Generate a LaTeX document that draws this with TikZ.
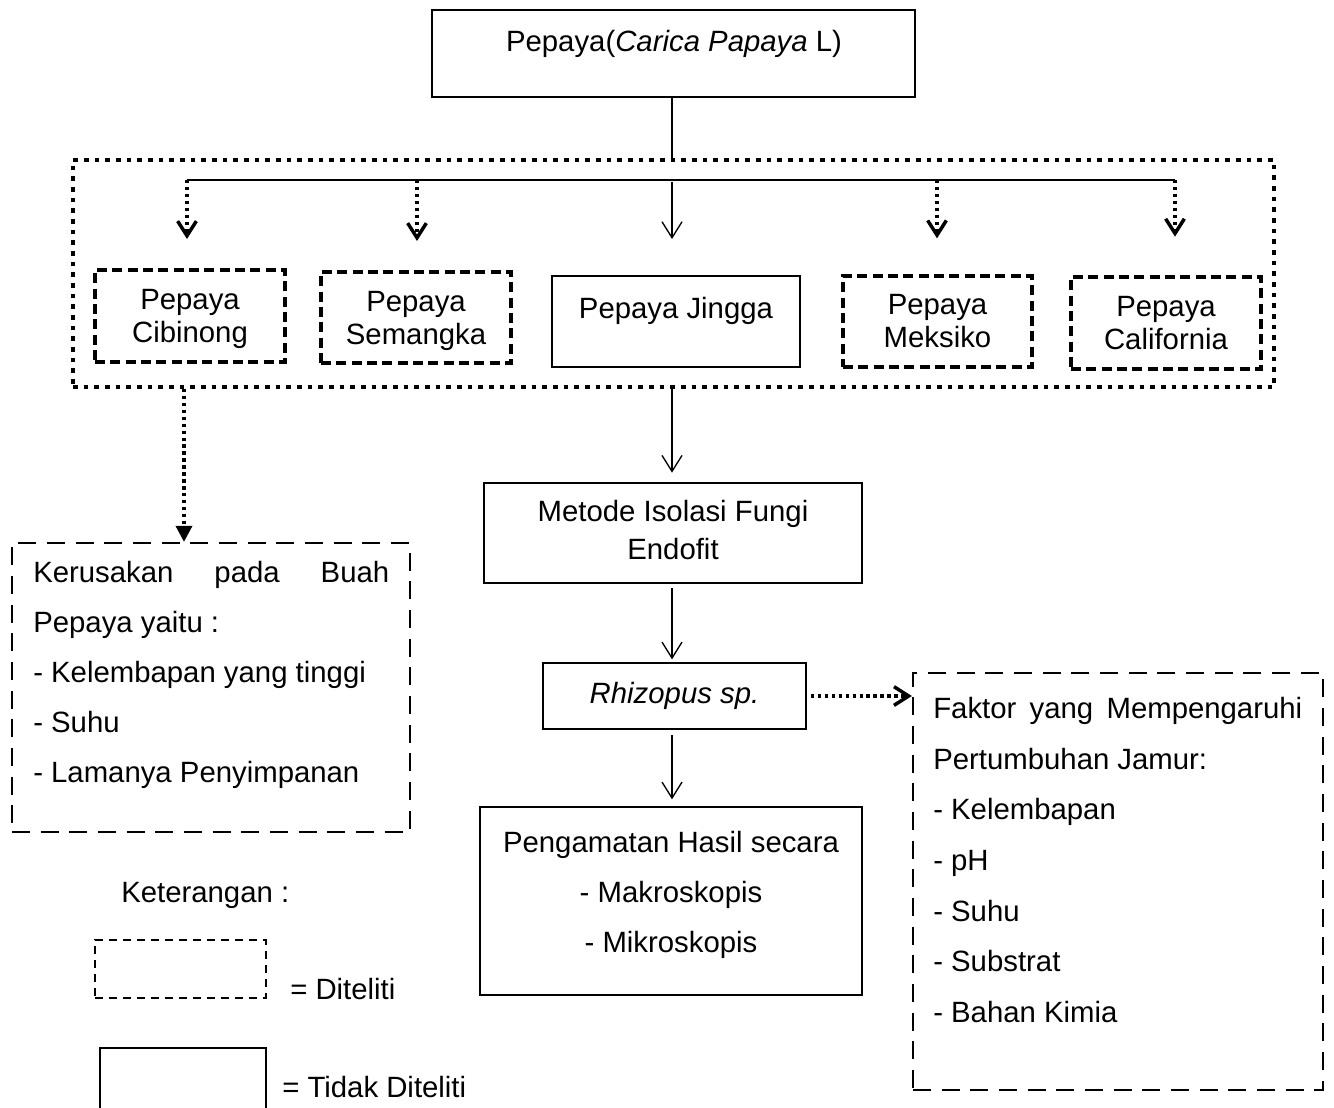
\documentclass[tikz,border=0pt]{standalone}
\usepackage{fontspec}
\setmainfont{Liberation Sans}
\usetikzlibrary{arrows.meta}

\begin{document}
\begin{tikzpicture}[
    x=0.75pt, y=-0.75pt,
    font=\fontsize{22pt}{26pt}\selectfont,
    solidbox/.style={rectangle, draw, line width=1.5pt, inner sep=0pt, align=center},
    dashbox/.style={rectangle, draw, line width=2.5pt, dash pattern=on 7.5pt off 4pt, inner sep=0pt, align=center},
    notebox/.style={rectangle, draw, line width=1.7pt, dash pattern=on 13.5pt off 8pt, inner sep=0pt},
    groupbox/.style={rectangle, draw, line width=3.5pt, dash pattern=on 3.5pt off 4.5pt, inner sep=0pt},
    txt/.style={inner sep=0pt, align=left},
    link/.style={line width=1pt, -{Straight Barb[length=12pt,width=15pt]}},
    dotlink/.style={line width=2.6pt, dash pattern=on 2.6pt off 2.6pt, -{Straight Barb[length=11pt,width=14pt]}},
    dotfill/.style={line width=2.6pt, dash pattern=on 2.6pt off 2.6pt, -{Triangle[length=12pt,width=12pt]}},
]
    \useasboundingbox (0,0) rectangle (1334,1107);

    %Nodes
    \node[solidbox, minimum width=362.25pt, minimum height=65.25pt] (pepaya) at (673.5,53.5) {};
    \node[txt] (pepayatxt) at (674,44) {Pepaya(\textit{Carica Papaya} L)};

    \node[groupbox, minimum width=900.75pt, minimum height=170.25pt] (varietas) at (673.5,273.5) {};

    \node[dashbox, minimum width=142.5pt, minimum height=69pt] (cibinong) at (190,316) {};
    \node[txt, align=center, font=\fontsize{22pt}{24.75pt}\selectfont] (cibinongtxt) at (190,318.5) {Pepaya\\Cibinong};
    \node[dashbox, minimum width=142.5pt, minimum height=68.25pt] (semangka) at (416,317.5) {};
    \node[txt, align=center, font=\fontsize{22pt}{24.75pt}\selectfont] (semangkatxt) at (416,320.5) {Pepaya\\Semangka};
    \node[solidbox, minimum width=186pt, minimum height=68.25pt] (jingga) at (676,321.5) {};
    \node[txt] (jinggatxt) at (676,311) {Pepaya Jingga};
    \node[dashbox, minimum width=141.75pt, minimum height=68.25pt, font=\fontsize{22pt}{24.75pt}\selectfont] (meksiko) at (937.5,321.5) {Pepaya\\Meksiko};
    \node[dashbox, minimum width=142.5pt, minimum height=69pt, font=\fontsize{22pt}{24.75pt}\selectfont] (california) at (1166,323) {Pepaya\\California};

    \node[solidbox, minimum width=283.5pt, minimum height=75pt] (metode) at (673,533) {};
    \node[txt, align=center, font=\fontsize{22pt}{28.5pt}\selectfont] (metodetxt) at (673,530) {Metode Isolasi Fungi\\Endofit};
    \node[solidbox, minimum width=197.25pt, minimum height=49.5pt] (rhizopus) at (674.5,696) {\textit{Rhizopus sp.}};
    \node[solidbox, minimum width=286.5pt, minimum height=141pt] (pengamatan) at (671,901) {};
    \node[txt, align=center, font=\fontsize{22pt}{37.5pt}\selectfont] (pengamatantxt) at (671,895) {Pengamatan Hasil secara\\- Makroskopis\\- Mikroskopis};

    \node[notebox, minimum width=298.5pt, minimum height=216.75pt] (kerusakan) at (211,687.5) {};
    \node[txt, anchor=north west, font=\fontsize{22pt}{37.5pt}\selectfont] (kerusakantxt) at (33,561) {\makebox[267pt][s]{Kerusakan pada Buah}\\Pepaya yaitu :\\- Kelembapan yang tinggi\\- Suhu\\- Lamanya Penyimpanan};

    \node[notebox, minimum width=307.5pt, minimum height=312.75pt] (faktor) at (1118,881.5) {};
    \node[txt, anchor=north west, font=\fontsize{22pt}{38pt}\selectfont] (faktortxt) at (933,697) {\makebox[276.75pt][s]{Faktor yang Mempengaruhi}\\Pertumbuhan Jamur:\\- Kelembapan\\- pH\\- Suhu\\- Substrat\\- Bahan Kimia};

    %Legend
    \node[txt, anchor=west] (keterangan) at (121,895) {Keterangan :};
    \node[rectangle, draw, line width=1.6pt, dash pattern=on 6pt off 4.5pt, inner sep=0pt, minimum width=128.25pt, minimum height=43.5pt] (legdash) at (180.5,969) {};
    \node[txt, anchor=west] (legdashtxt) at (290,989) {= Diteliti};
    \node[rectangle, draw, line width=1.1pt, inner sep=0pt, minimum width=124.5pt, minimum height=52.5pt] (legsolid) at (183,1083) {};
    \node[txt, anchor=west] (legsolidtxt) at (282,1087) {= Tidak Diteliti};

    %Lines
    \coordinate (b1) at (187,180);
    \coordinate (b2) at (417,180);
    \coordinate (b3) at (672,180);
    \coordinate (b4) at (937,180);
    \coordinate (b5) at (1175,180);
    \coordinate (k1) at (184,389);

    \draw[line width=1pt] (pepaya.south -| b3) -- (varietas.north -| b3);
    \draw[line width=1.4pt] (b1) -- (b5);
    \draw[dotlink, shorten >=22pt] (b1) -- (b1 |- cibinong.north);
    \draw[dotlink, shorten >=22pt] (b2) -- (b2 |- semangka.north);
    \draw[link, shorten <=1.5pt, shorten >=27pt] (b3) -- (b3 |- jingga.north);
    \draw[dotlink, shorten >=27pt] (b4) -- (b4 |- meksiko.north);
    \draw[dotlink, shorten >=29pt] (b5) -- (b5 |- california.north);

    \draw[dotfill] (k1) -- (k1 |- kerusakan.north);
    \draw[link, shorten >=7pt] (varietas.south -| b3) -- (metode.north -| b3);
    \draw[link, shorten <=3pt, shorten >=2pt] (metode.south -| b3) -- (rhizopus.north -| b3);
    \draw[link, shorten <=4pt, shorten >=5pt] (rhizopus.south -| b3) -- (pengamatan.north -| b3);
    \draw[dotlink, shorten <=3pt] (rhizopus.east) -- (rhizopus.east -| faktor.west);
\end{tikzpicture}
\end{document}
